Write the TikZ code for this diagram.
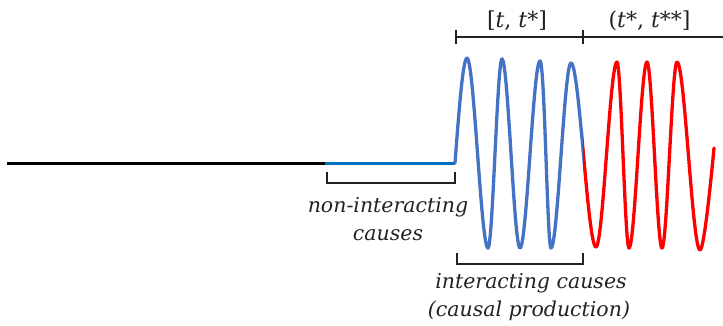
\documentclass[tikz,border=0pt]{standalone}
\usepackage{fontspec}
\setmainfont{DejaVu Serif}
\definecolor{wblue}{HTML}{4472C4}
\definecolor{hblue}{HTML}{0070C0}
\definecolor{wred}{HTML}{FF0000}
\definecolor{ink}{HTML}{222222}
\begin{document}
\begin{tikzpicture}[x=1pt,y=-1pt,
  wave/.style={line width=3.3pt,line cap=round,line join=round},
  baseline/.style={line width=3pt},
  brk/.style={draw=ink,line width=1.6pt},
  lbl/.style={font=\itshape\fontsize{20.5}{28}\selectfont,text=ink,inner sep=0pt,anchor=base},
  tlbl/.style={font=\fontsize{22}{28}\selectfont,text=ink,inner sep=0pt,anchor=base}]
\useasboundingbox (0,0) rectangle (723,325);
% baseline
\coordinate (s0) at (7,163);
\coordinate (s1) at (325,163);
\coordinate (s2) at (455,163);
\draw[baseline,black] (s0) -- (s1);
\draw[baseline,hblue] (s1) -- (s2);
% wave
\def\wavepath{(s2) .. controls (459,110) and (463,58) .. (467,58)
 .. controls (474,58) and (481,248) .. (488,248)
 .. controls (492.7,248) and (497.3,59) .. (502,59)
 .. controls (508,59) and (514,248) .. (520,248)
 .. controls (526.7,248) and (533.3,61) .. (540,61)
 .. controls (544.7,61) and (547.3,248) .. (551,248)
 .. controls (557.7,248) and (564.3,63) .. (571,63)
 .. controls (579.3,63) and (587.7,247) .. (596,247)
 .. controls (603,247) and (610,62) .. (617,62)
 .. controls (621,62) and (625,248) .. (629,248)
 .. controls (635,248) and (641,62) .. (647,62)
 .. controls (652,62) and (657,248) .. (662,248)
 .. controls (667,248) and (672,62) .. (677,62)
 .. controls (684.7,62) and (692.3,250) .. (700,250)
 .. controls (704,250) and (711,180) .. (714,148)}
\begin{scope}
  \clip (440,0) rectangle (583,325);
  \draw[wave,wblue] \wavepath;
\end{scope}
\begin{scope}
  \clip (583,0) rectangle (723,325);
  \draw[wave,wred] \wavepath;
\end{scope}
% top brackets
\coordinate (ta) at (456,37);
\coordinate (tb) at (583,37);
\coordinate (tc) at (723,37);
\draw[brk] (ta) -- (tc);
\draw[brk] ([yshift=-7]ta) -- ([yshift=7]ta);
\draw[brk] ([yshift=-7]tb) -- ([yshift=7]tb);
\node[tlbl] (l1) at (517,27) {[\textit{t}, \textit{t}*]};
\node[tlbl] (l2) at (649.5,27) {(\textit{t}*, \textit{t}**]};
% lower bracket 1
\coordinate (b1a) at (327,172);
\coordinate (b1b) at (455,172);
\draw[brk] (b1a) -- ++(0,11) -| (b1b);
\node[lbl] (n1) at (388,212) {non-interacting};
\node[lbl] (n2) at (388,240) {causes};
% lower bracket 2
\coordinate (b2a) at (457,253);
\coordinate (b2b) at (583,253);
\draw[brk] (b2a) -- ++(0,11) -| (b2b);
\node[lbl] (i1) at (531,288) {interacting causes};
\node[lbl] (i2) at (529,316) {(causal production)};
\end{tikzpicture}
\end{document}
